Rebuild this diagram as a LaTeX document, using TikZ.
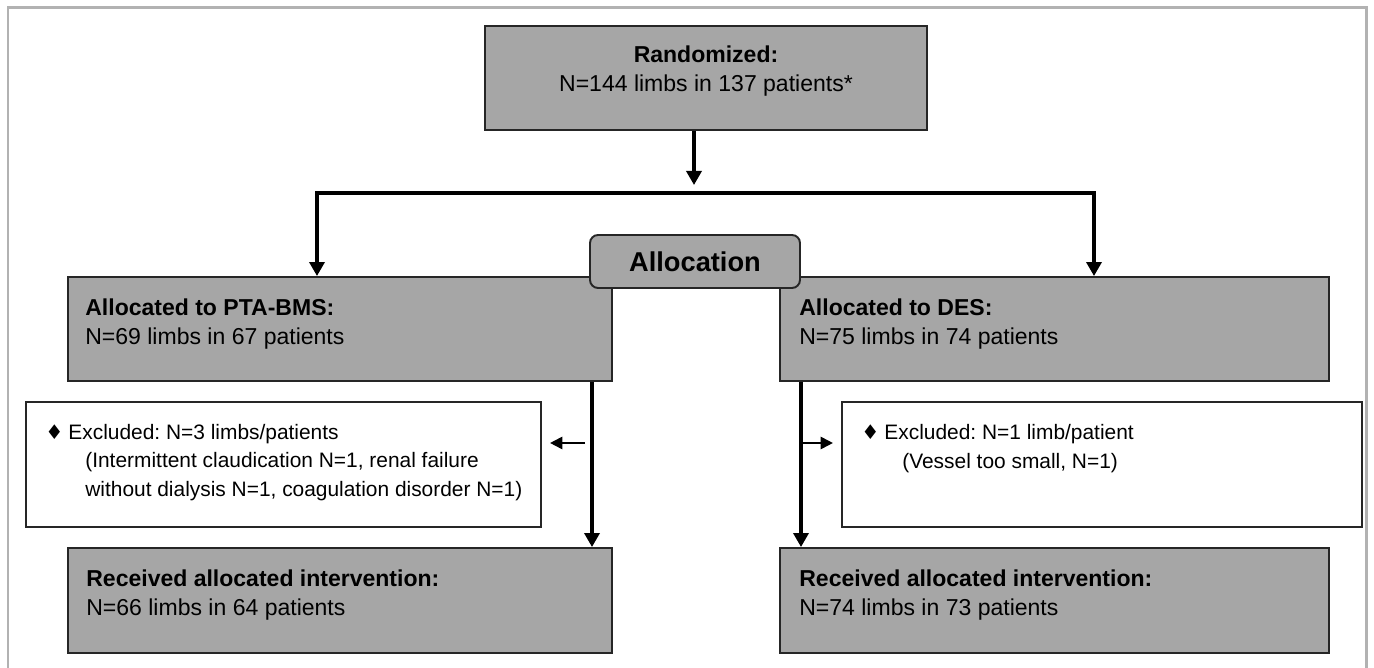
\documentclass[tikz,border=0pt]{standalone}
\usepackage{fontspec}
\setmainfont{Liberation Sans}
\newfontfamily\symfont{DejaVu Sans}
\usetikzlibrary{arrows.meta}
\newcommand{\bodysize}{\fontsize{13.1}{16.8}\selectfont}
\newcommand{\exclsize}{\fontsize{11.9}{16.3}\selectfont}
\newcommand{\bullitem}{{\symfont\fontsize{11.5}{11.5}\selectfont ♦}\hspace{0.1cm}}
\frenchspacing

\begin{document}
\begin{tikzpicture}[x=0.02cm,y=-0.02cm,
    graybox/.style={draw=black!85,line width=1.1pt,fill=black!35,inner sep=0pt},
    whitebox/.style={draw=black!85,line width=1.1pt,fill=white,inner sep=0pt},
    boxtext/.style={anchor=west,align=left,inner sep=0pt,font=\bodysize},
    flow/.style={line width=1.9pt,-{Triangle[width=0.3cm,length=0.28cm]}},
    side/.style={line width=1.6pt,-{Triangle[width=0.24cm,length=0.25cm]}}]
    \useasboundingbox (0,0) rectangle (1374,668);
    \draw[line width=1.7pt,gray!60] (8,668)--(8,8)--(1366,8)--(1366,668);

    \node[graybox,minimum width=8.84cm,minimum height=2.08cm] (rand) at (706,78) {};
    \node[font=\bodysize,align=center,inner sep=0pt] (randtxt) at (706,71)
        {\textbf{Randomized:}\\N=144 limbs in 137 patients*};

    \node[graybox,minimum width=10.88cm,minimum height=2.08cm] (pta) at (340,329) {};
    \node[graybox,minimum width=10.98cm,minimum height=2.08cm] (des) at (1054.5,329) {};
    \node[boxtext] (ptatxt) at (85,324) {\textbf{Allocated to PTA-BMS:}\\N=69 limbs in 67 patients};
    \node[boxtext] (destxt) at (799,324) {\textbf{Allocated to DES:}\\N=75 limbs in 74 patients};

    \node[graybox,rounded corners=0.16cm,minimum width=4.2cm,minimum height=1.06cm,
        font=\fontsize{15.5}{18}\selectfont\bfseries] (alloc) at (695,261.5) {Allocation};

    \node[whitebox,minimum width=10.3cm,minimum height=2.5cm] (exl) at (283.5,464.5) {};
    \node[whitebox,minimum width=10.4cm,minimum height=2.5cm] (exr) at (1102,464.5) {};
    \node[boxtext,font=\exclsize] (exltxt) at (45,462.5)
        {\bullitem Excluded: N=3 limbs/patients\\
        \hspace*{0.8cm}(Intermittent claudication N=1, renal failure\\
        \hspace*{0.8cm}without dialysis N=1, coagulation disorder N=1)};
    \node[boxtext,font=\exclsize] (exrtxt) at (861,448.5)
        {\bullitem Excluded: N=1 limb/patient\\
        \hspace*{0.82cm}(Vessel too small, N=1)};

    \foreach \side/\xc/\boxw/\xt/\patients in {l/340/10.88/86/{N=66 limbs in 64 patients},
                                              r/1054.5/10.98/799/{N=74 limbs in 73 patients}}{
        \node[graybox,minimum width=\boxw cm,minimum height=2.1cm] (rec\side) at (\xc,600.5) {};
        \node[boxtext] (rec\side txt) at (\xt,595) {\textbf{Received allocated intervention:}\\\patients};
    }

    \coordinate (split) at (694,193);
    \coordinate (splitL) at (317,193);
    \coordinate (splitR) at (1094,193);
    \draw[flow,shorten >=0.16cm] (rand.south -| split) -- (split);
    \draw[flow] (split) -| (splitL |- pta.north);
    \draw[flow] (split) -| (splitR |- des.north);

    \coordinate (trunkL) at (592,443);
    \coordinate (trunkR) at (801,443);
    \draw[flow] (trunkL |- pta.south) -- (trunkL |- recl.north);
    \draw[side,shorten <=0.14cm,shorten >=0.16cm] (trunkL) -- (trunkL -| exl.east);
    \draw[flow] (trunkR |- des.south) -- (trunkR |- recr.north);
    \draw[side,shorten >=0.16cm] (trunkR) -- (trunkR -| exr.west);
\end{tikzpicture}
\end{document}
